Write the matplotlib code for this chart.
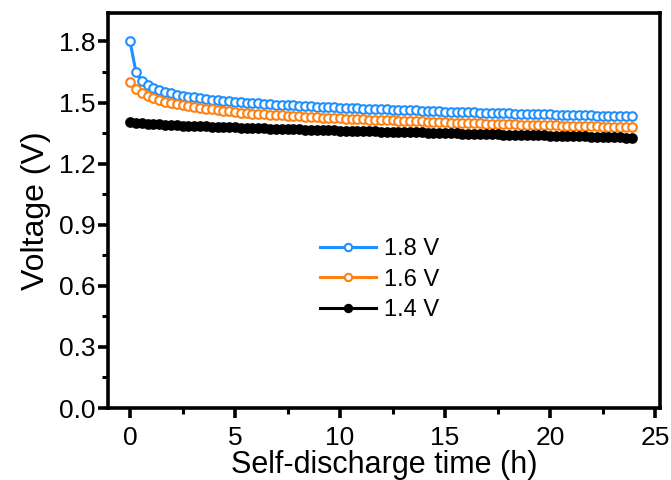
import matplotlib
matplotlib.use("Agg")
import matplotlib.pyplot as plt
from matplotlib.ticker import MultipleLocator

plt.rcParams['font.family'] = ['Liberation Sans', 'DejaVu Sans']

# sampling times (h)
time_h = [0.00, 0.28, 0.56, 0.83, 1.11, 1.39, 1.67, 1.94, 2.22, 2.50,
          2.78, 3.06, 3.33, 3.61, 3.89, 4.17, 4.44, 4.72, 5.00, 5.28,
          5.56, 5.83, 6.11, 6.39, 6.67, 6.94, 7.22, 7.50, 7.78, 8.06,
          8.33, 8.61, 8.89, 9.17, 9.44, 9.72, 10.00, 10.28, 10.56, 10.83,
          11.11, 11.39, 11.67, 11.94, 12.22, 12.50, 12.78, 13.06, 13.33, 13.61,
          13.89, 14.17, 14.44, 14.72, 15.00, 15.28, 15.56, 15.83, 16.11, 16.39,
          16.67, 16.94, 17.22, 17.50, 17.78, 18.06, 18.33, 18.61, 18.89, 19.17,
          19.44, 19.72, 20.00, 20.28, 20.56, 20.83, 21.11, 21.39, 21.67, 21.94,
          22.22, 22.50, 22.78, 23.06, 23.33, 23.61, 23.89]

v18 = [1.800, 1.650, 1.607, 1.586, 1.572, 1.561, 1.552, 1.545, 1.539, 1.534,
       1.529, 1.525, 1.521, 1.518, 1.515, 1.512, 1.509, 1.506, 1.504, 1.502,
       1.500, 1.498, 1.496, 1.494, 1.492, 1.490, 1.489, 1.487, 1.486, 1.484,
       1.483, 1.481, 1.480, 1.479, 1.477, 1.476, 1.475, 1.474, 1.473, 1.471,
       1.470, 1.469, 1.468, 1.467, 1.466, 1.465, 1.464, 1.463, 1.462, 1.461,
       1.460, 1.459, 1.458, 1.457, 1.456, 1.455, 1.454, 1.453, 1.452, 1.452,
       1.451, 1.450, 1.449, 1.448, 1.448, 1.447, 1.446, 1.445, 1.445, 1.444,
       1.443, 1.442, 1.442, 1.441, 1.440, 1.440, 1.439, 1.438, 1.437, 1.437,
       1.436, 1.435, 1.435, 1.434, 1.433, 1.433, 1.432]

v16 = [1.600, 1.567, 1.545, 1.531, 1.520, 1.511, 1.503, 1.497, 1.491, 1.486,
       1.481, 1.477, 1.473, 1.469, 1.466, 1.463, 1.460, 1.457, 1.454, 1.450,
       1.448, 1.446, 1.444, 1.442, 1.440, 1.438, 1.437, 1.435, 1.433, 1.432,
       1.430, 1.429, 1.427, 1.426, 1.425, 1.423, 1.422, 1.421, 1.420, 1.418,
       1.417, 1.416, 1.415, 1.414, 1.413, 1.412, 1.411, 1.410, 1.409, 1.408,
       1.407, 1.406, 1.405, 1.404, 1.403, 1.402, 1.401, 1.400, 1.399, 1.398,
       1.398, 1.397, 1.396, 1.395, 1.394, 1.394, 1.393, 1.392, 1.391, 1.391,
       1.390, 1.389, 1.388, 1.388, 1.387, 1.386, 1.386, 1.385, 1.384, 1.384,
       1.383, 1.382, 1.382, 1.381, 1.380, 1.380, 1.379]

v14 = [1.403, 1.400, 1.398, 1.396, 1.394, 1.393, 1.391, 1.390, 1.389, 1.387,
       1.386, 1.385, 1.384, 1.383, 1.382, 1.381, 1.380, 1.379, 1.378, 1.377,
       1.376, 1.375, 1.374, 1.373, 1.372, 1.371, 1.370, 1.370, 1.369, 1.368,
       1.367, 1.366, 1.365, 1.365, 1.364, 1.363, 1.362, 1.362, 1.361, 1.360,
       1.359, 1.359, 1.358, 1.357, 1.357, 1.356, 1.355, 1.355, 1.354, 1.353,
       1.353, 1.352, 1.351, 1.351, 1.350, 1.349, 1.349, 1.348, 1.347, 1.347,
       1.346, 1.345, 1.345, 1.344, 1.343, 1.343, 1.342, 1.341, 1.341, 1.340,
       1.339, 1.339, 1.338, 1.337, 1.337, 1.336, 1.335, 1.334, 1.334, 1.333,
       1.332, 1.331, 1.331, 1.330, 1.329, 1.328, 1.327]

fig = plt.figure(figsize=(6.71, 4.80), dpi=100)
ax = fig.add_axes([0.161, 0.15, 0.823, 0.823])

ax.plot(time_h, v18, '-o', color='#1E90FF', lw=2.2, ms=6.2, mfc='white',
        mec='#1E90FF', mew=1.5, label='1.8 V')
ax.plot(time_h, v16, '-o', color='#FF8010', lw=2.2, ms=6.2, mfc='white',
        mec='#FF8010', mew=1.5, label='1.6 V')
ax.plot(time_h, v14, '-o', color='black', lw=2.2, ms=6.2, mfc='black',
        mec='black', mew=1.5, label='1.4 V')

ax.set_xlim(-1.05, 25.25)
ax.set_ylim(0, 1.94)
ax.xaxis.set_major_locator(MultipleLocator(5))
ax.xaxis.set_minor_locator(MultipleLocator(2.5))
ax.yaxis.set_major_locator(MultipleLocator(0.3))
ax.yaxis.set_minor_locator(MultipleLocator(0.15))
ax.yaxis.set_major_formatter(plt.FormatStrFormatter('%.1f'))

for s in ax.spines.values():
    s.set_linewidth(2.6)
ax.tick_params(which='major', direction='out', length=7, width=2.6,
               labelsize=19, top=False, right=False)
ax.tick_params(axis='x', which='major', pad=6)
ax.tick_params(axis='y', which='major', pad=2)
ax.tick_params(which='minor', direction='out', length=4, width=2.2,
               top=False, right=False)

ax.set_xlabel('Self-discharge time (h)', fontsize=22, labelpad=0)
ax.set_ylabel('Voltage (V)', fontsize=23, labelpad=6)

ax.legend(loc='center left', bbox_to_anchor=(0.345, 0.325), frameon=False,
          fontsize=17, handlelength=2.4, handletextpad=0.3, labelspacing=0.35,
          markerscale=0.85)

fig.savefig('out.png', dpi=100)
